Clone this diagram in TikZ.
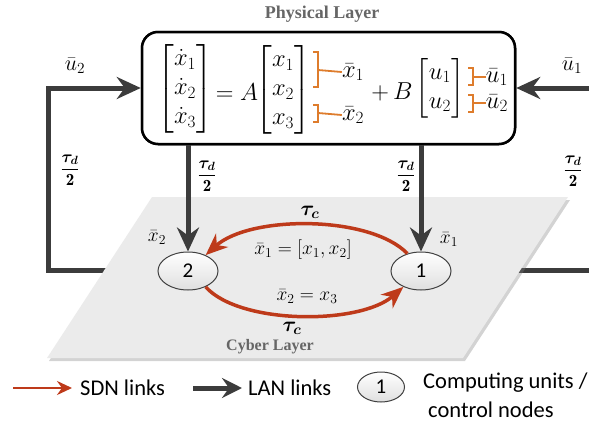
\RequirePackage{fix-cm}
\documentclass[tikz,border=0pt]{standalone}
\usepackage{amsmath,bm}
\usepackage{fontspec}
\newfontfamily\calib{Carlito}
\newfontfamily\layerfont{Liberation Serif}
\usetikzlibrary{arrows.meta,shadows,shapes.geometric}
\definecolor{lanc}{RGB}{60,60,60}
\definecolor{sdnc}{RGB}{190,58,26}
\definecolor{orangec}{RGB}{222,124,44}
\definecolor{planec}{RGB}{235,235,235}
\begin{document}
\begin{tikzpicture}[x=1pt,y=-1pt,
  lan/.style={draw=lanc, line width=5pt, -{Stealth[length=24pt,width=22pt,inset=8pt]}},
  sdn/.style={draw=sdnc, line width=3.5pt, -{Stealth[length=22pt,width=18pt,inset=7pt]}},
  cnode/.style={ellipse, draw=black!75, line width=1pt, minimum width=60pt, minimum height=38pt,
    top color=white, bottom color=gray!25, inner sep=0pt, font=\calib\fontsize{21}{21}\selectfont},
  obrk/.style={draw=orangec, line width=1.8pt},
  eqn/.style={inner sep=0pt, font=\fontsize{24.5}{29}\selectfont},
  mlab/.style={inner sep=0pt, font=\fontsize{19.5}{22}\selectfont},
  dlab/.style={inner sep=0pt, font=\fontsize{17}{19}\selectfont},
  layer/.style={inner sep=0pt, text=black!60, font=\layerfont\bfseries\fontsize{16}{18}\selectfont},
  legtxt/.style={inner sep=0pt, font=\calib\fontsize{22.5}{24}\selectfont}]
\clip (0,0) rectangle (589,423);

% outer LAN feedback paths (run underneath the cyber plane)
\node[draw, line width=2.5pt, rounded corners=16pt, minimum width=373pt, minimum height=112pt] (box) at (328.5,88) {};
\coordinate (lb) at (130,270);
\coordinate (rb) at (500,270);
\draw[lan] (lb) -- (48,270) |- (box.west);
\draw[lan] (rb) -- (610,270) |- (box.east);

% cyber layer plane
\fill[planec, drop shadow={opacity=0.35, shadow xshift=2pt, shadow yshift=-3pt}]
  (152,197) -- (568,197) -- (463,358) -- (47,358) -- cycle;
\node[layer] (cyber) at (270,347) {Cyber Layer};

% physical layer box (redrawn on top)
\node[draw, fill=white, line width=2.5pt, rounded corners=16pt, minimum width=373pt, minimum height=112pt] at (328.5,88) {};
\node[layer, font=\layerfont\bfseries\fontsize{18}{20}\selectfont] (phys) at (322,14) {Physical Layer};

% state equation
\node[eqn] (m1) at (185,89) {$\begin{bmatrix}\dot{x}_1\\ \dot{x}_2\\ \dot{x}_3\end{bmatrix}$};
\node[eqn] (eqA) at (237,92) {$=A$};
\node[eqn] (m2) at (283,90) {$\begin{bmatrix}x_1\\ x_2\\ x_3\end{bmatrix}$};
\node[eqn] (xb1) at (353,72) {$\bar{x}_1$};
\node[eqn] (xb2) at (353,115) {$\bar{x}_2$};
\draw[obrk] (313,52) -- (318,52) -- (318,87) -- (313,87);
\draw[obrk] (318,70) -- (xb1.west);
\draw[obrk] (313,105) -- (318,105) -- (318,122) -- (313,122);
\draw[obrk] (318,113) -- (xb2.west);
\node[eqn] (eqB) at (392,92) {$+\,B$};
\node[eqn] (m3) at (440,88) {$\begin{bmatrix}u_1\\ u_2\end{bmatrix}$};
\node[eqn] (ub1) at (497,77) {$\bar{u}_1$};
\node[eqn] (ub2) at (497,103) {$\bar{u}_2$};
\draw[obrk] (468,68) -- (473,68) -- (473,85) -- (468,85);
\draw[obrk] (473,77) -- (ub1.west);
\draw[obrk] (468,95) -- (473,95) -- (473,112) -- (468,112);
\draw[obrk] (473,103) -- (ub2.west);

% outer labels
\node[eqn, font=\fontsize{22}{24}\selectfont] (ul2) at (75,66) {$\bar{u}_2$};
\node[eqn, font=\fontsize{22}{24}\selectfont] (ul1) at (572,66) {$\bar{u}_1$};
\node[dlab] (td1) at (70,170) {$\dfrac{\bm{\tau_d}}{\mathbf{2}}$};
\node[dlab] (td2) at (207,176) {$\dfrac{\bm{\tau_d}}{\mathbf{2}}$};
\node[dlab] (td3) at (406,176) {$\dfrac{\bm{\tau_d}}{\mathbf{2}}$};
\node[dlab] (td4) at (573,171) {$\dfrac{\bm{\tau_d}}{\mathbf{2}}$};

% computing nodes
\node[cnode] (n2) at (188,271) {2};
\node[cnode] (n1) at (421,271) {1};
\node[mlab] (xn2) at (157,238) {$\bar{x}_2$};
\node[mlab] (xn1) at (449,240) {$\bar{x}_1$};

% LAN links from the physical layer
\draw[lan] (n2 |- box.south) -- (n2.north);
\draw[lan] (n1 |- box.south) -- (n1.north);

% SDN links between the nodes
\draw[sdn] (n1.128) .. controls (370,215) and (250,215) .. (n2.42);
\draw[sdn] (n2.-42) .. controls (240,325) and (360,325) .. (n1.-138);
\node[mlab, font=\fontsize{21}{22}\selectfont] (tc1) at (310,212) {$\bm{\tau_c}$};
\node[mlab, font=\fontsize{21}{22}\selectfont] (tc2) at (292,328) {$\bm{\tau_c}$};
\node[mlab] (e1) at (303,250) {$\bar{x}_1=[x_1,x_2]$};
\node[mlab] (e2) at (307,297) {$\bar{x}_2=x_3$};

% legend
\coordinate (sa) at (13,388);
\coordinate (sb) at (72,388);
\draw[draw=sdnc, line width=2.5pt, -{Stealth[length=15pt,width=14pt,inset=5pt]}] (sa) -- (sb);
\node[legtxt, anchor=west] (st) at (80,388) {SDN links};
\coordinate (la) at (193,388);
\coordinate (lbb) at (242,388);
\draw[draw=lanc, line width=5pt, -{Stealth[length=20pt,width=20pt,inset=7pt]}] (la) -- (lbb);
\node[legtxt, anchor=west] (lt) at (248,388) {LAN links};
\node[cnode, minimum width=47pt, minimum height=30pt] (legn) at (381,387) {1};
\node[legtxt, anchor=west] (ct1) at (423,383) {Computing units /};
\node[legtxt, anchor=west] (ct2) at (428,410) {control nodes};
\end{tikzpicture}
\end{document}
